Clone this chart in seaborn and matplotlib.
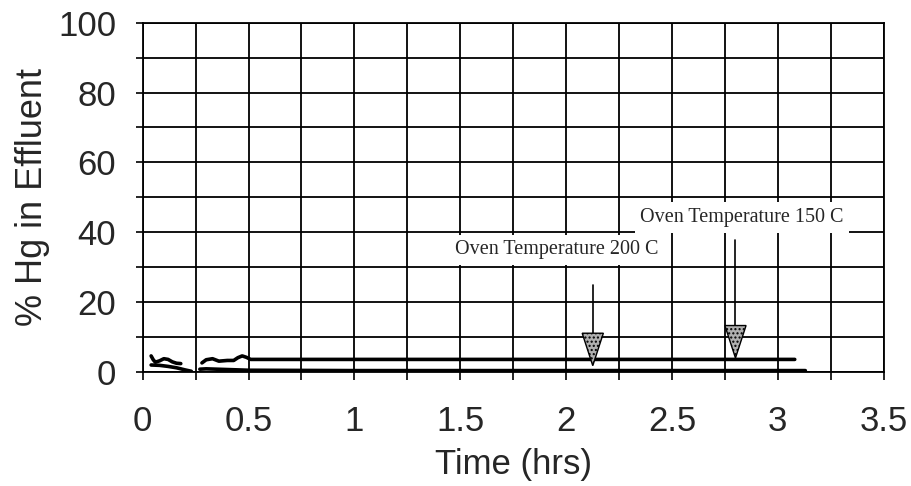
import numpy as np
import pandas as pd
import matplotlib
matplotlib.use("Agg")
import matplotlib.pyplot as plt
import seaborn as sns

# ---- data ----
upper_time = [0.04, 0.05, 0.06, 0.08, 0.10, 0.12, 0.14, 0.16, 0.18,
              0.28, 0.30, 0.33, 0.36, 0.40, 0.43, 0.45, 0.47, 0.49, 0.51,
              0.75, 1.0, 1.25, 1.5, 1.75, 2.0, 2.25, 2.5, 2.75, 3.0, 3.08]
upper_pct = [4.6, 3.5, 2.8, 3.2, 3.8, 3.6, 2.9, 2.5, 2.4,
             2.6, 3.5, 3.8, 3.1, 3.3, 3.3, 4.1, 4.6, 4.2, 3.6,
             3.6, 3.6, 3.6, 3.6, 3.6, 3.6, 3.6, 3.6, 3.6, 3.6, 3.6]
upper_segment = [1] * 9 + [2] * 21
lower_time = [0.04, 0.08, 0.12, 0.16, 0.20, 0.23,
              0.27, 0.30, 0.40, 0.50, 1.0, 1.5, 2.0, 2.5, 3.0, 3.13]
lower_pct = [2.0, 1.9, 1.6, 1.2, 0.6, 0.2,
             0.8, 0.9, 0.7, 0.5, 0.4, 0.4, 0.4, 0.4, 0.4, 0.4]
lower_segment = [1] * 6 + [2] * 10

x_ticks = [0, 0.5, 1, 1.5, 2, 2.5, 3, 3.5]
x_tick_labels = ["0", "0.5", "1", "1.5", "2", "2.5", "3", "3.5"]
y_ticks = [0, 20, 40, 60, 80, 100]
y_tick_labels = ["0", "20", "40", "60", "80", "100"]

annot_text = ["Oven Temperature 200 C", "Oven Temperature 150 C"]
annot_x = [2.126, 2.80]      # arrow x (hrs)
annot_tip = [1.8, 4.0]       # triangle tip (%)
annot_top = [11.1, 13.3]     # triangle top (%)
annot_line_top = [24.8, 37.8]
annot_text_x = [1.475, 2.35]
annot_text_y = [35.0, 44.2]

# ---- style ----
sns.set_style("white")
plt.rcParams["font.family"] = ["Liberation Sans", "DejaVu Sans"]

fig = plt.figure(figsize=(9.11, 4.86), dpi=100)
ax = fig.add_axes([0.1566, 0.2346, 0.8134, 0.7187])

df_u = pd.DataFrame({"t": upper_time, "v": upper_pct, "seg": upper_segment})
df_l = pd.DataFrame({"t": lower_time, "v": lower_pct, "seg": lower_segment})
sns.lineplot(data=df_u, x="t", y="v", units="seg", ax=ax, color="black",
             lw=2.6, estimator=None, sort=False, zorder=5)
sns.lineplot(data=df_l, x="t", y="v", units="seg", ax=ax, color="black",
             lw=2.6, estimator=None, sort=False, zorder=5)

ax.set_xlim(0, 3.5)
ax.set_ylim(0, 100)

ax.set_xticks(x_ticks)
ax.set_xticklabels(x_tick_labels)
ax.set_yticks(y_ticks)
ax.set_yticklabels(y_tick_labels)
ax.set_xticks(np.arange(0, 3.51, 0.25), minor=True)
ax.set_yticks(np.arange(0, 101, 10), minor=True)

ax.grid(True, which="both", color="black", lw=1.3)
ax.set_axisbelow(True)
for s in ax.spines.values():
    s.set_color("black")
    s.set_linewidth(1.3)

ax.tick_params(axis="x", which="both", direction="out", length=6,
               width=1.2, color="black", bottom=True)
ax.tick_params(axis="y", which="both", direction="out", length=5,
               width=1.2, color="black", left=True)
ax.tick_params(axis="x", which="major", labelsize=25, pad=18)
ax.tick_params(axis="y", which="major", labelsize=25, pad=14)

ax.set_xlabel("Time (hrs)", fontsize=25, labelpad=7)
ax.set_ylabel("% Hg in Effluent", fontsize=26, labelpad=6)

# annotations
for txt, xa, tip, top, ltop, tx, ty in zip(annot_text, annot_x, annot_tip,
                                             annot_top, annot_line_top,
                                             annot_text_x, annot_text_y):
    ax.text(tx, ty, txt, fontsize=14.5, family="Liberation Serif",
            ha="left", va="center", zorder=6,
            bbox=dict(facecolor="white", edgecolor="none", pad=4))
    ax.plot([xa, xa], [top, ltop], color="black", lw=1.2, zorder=6)
    hw = 0.05
    ax.fill([xa - hw, xa + hw, xa], [top, top, tip], facecolor="#b0b0b0",
            edgecolor="black", hatch="....", lw=1.0, zorder=7)

fig.savefig("out.png", dpi=100)
